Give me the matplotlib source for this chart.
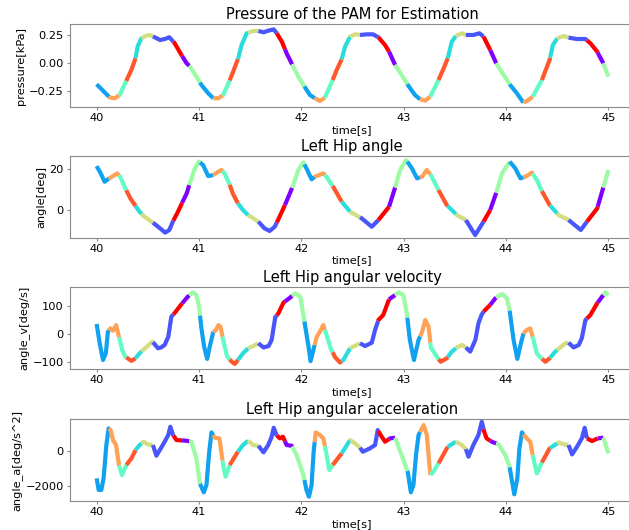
import numpy as np
import matplotlib
matplotlib.use("Agg")
import matplotlib.pyplot as plt

# ---------------- data ----------------
# gait phase boundaries (start time of each coloured segment) and class index
phase_start = [40.0, 40.12, 40.22, 40.29, 40.38, 40.44, 40.55, 40.75, 40.835, 40.905,
               41.01, 41.14, 41.23, 41.30, 41.38, 41.48, 41.58, 41.76, 41.84, 41.91,
               42.03, 42.13, 42.23, 42.306, 42.394, 42.475, 42.573, 42.75, 42.857, 42.916,
               43.035, 43.16, 43.26, 43.34, 43.43, 43.51, 43.607, 43.78, 43.845, 43.904,
               44.035, 44.17, 44.26, 44.35, 44.43, 44.50, 44.61, 44.79, 44.895, 44.95]
phase_end = 45.0
phase_class = [2, 7, 4, 8, 3, 6, 1, 9, 0, 5,
               2, 7, 4, 8, 3, 6, 1, 9, 0, 5,
               2, 7, 4, 8, 3, 6, 1, 9, 0, 5,
               2, 7, 4, 8, 3, 6, 1, 9, 0, 5,
               2, 7, 4, 8, 3, 6, 1, 9, 0, 5]

# pressure [kPa]
t_pressure = [40.0, 40.062, 40.127, 40.176, 40.225, 40.29, 40.34, 40.38, 40.40, 40.437,
              40.486, 40.52, 40.584, 40.62, 40.67, 40.71, 40.76, 40.83, 40.877, 40.91,
              40.975, 41.024, 41.09, 41.14, 41.19, 41.236, 41.295, 41.334, 41.383, 41.416,
              41.465, 41.53, 41.58, 41.63, 41.68, 41.73, 41.76, 41.81, 41.856, 41.905,
              41.97, 42.035, 42.084, 42.133, 42.18, 42.23, 42.306, 42.345, 42.394, 42.427,
              42.476, 42.525, 42.573, 42.64, 42.70, 42.753, 42.818, 42.857, 42.916, 42.98,
              43.04, 43.11, 43.16, 43.21, 43.26, 43.34, 43.39, 43.43, 43.47, 43.51,
              43.568, 43.607, 43.68, 43.74, 43.78, 43.845, 43.904, 43.976, 44.04, 44.105,
              44.17, 44.22, 44.26, 44.35, 44.425, 44.457, 44.5, 44.563, 44.61, 44.693,
              44.775, 44.824, 44.89, 44.95, 45.0]
pressure = [-0.19, -0.247, -0.307, -0.315, -0.286, -0.16, -0.06, 0.042, 0.146, 0.22,
            0.245, 0.25, 0.222, 0.205, 0.215, 0.23, 0.18, 0.07, 0.0, -0.03,
            -0.122, -0.196, -0.27, -0.315, -0.315, -0.286, -0.167, -0.077, 0.042, 0.16,
            0.265, 0.286, 0.286, 0.274, 0.289, 0.30, 0.265, 0.19, 0.086, -0.003,
            -0.122, -0.217, -0.286, -0.315, -0.339, -0.31, -0.152, -0.063, 0.033, 0.146,
            0.235, 0.256, 0.25, 0.256, 0.256, 0.229, 0.16, 0.101, -0.018, -0.107,
            -0.196, -0.286, -0.324, -0.336, -0.30, -0.152, -0.048, 0.042, 0.19, 0.241,
            0.265, 0.25, 0.25, 0.265, 0.235, 0.116, -0.003, -0.107, -0.196, -0.27,
            -0.354, -0.33, -0.30, -0.152, 0.027, 0.16, 0.22, 0.241, 0.226, 0.214,
            0.214, 0.176, 0.101, -0.003, -0.122]

# left hip angle [deg]
t_angle = [40.0, 40.04, 40.078, 40.11, 40.16, 40.2, 40.23, 40.28, 40.33, 40.38,
           40.42, 40.46, 40.55, 40.62, 40.67, 40.71, 40.745, 40.795, 40.83, 40.88,
           40.91, 40.96, 41.0, 41.04, 41.09, 41.14, 41.19, 41.22, 41.25, 41.295,
           41.33, 41.38, 41.43, 41.48, 41.58, 41.64, 41.69, 41.74, 41.775, 41.84,
           41.915, 41.97, 42.02, 42.05, 42.10, 42.133, 42.215, 42.24, 42.31, 42.394,
           42.476, 42.59, 42.688, 42.753, 42.857, 42.916, 42.965, 43.024, 43.08, 43.13,
           43.18, 43.226, 43.265, 43.34, 43.42, 43.52, 43.607, 43.698, 43.78, 43.845,
           43.904, 43.96, 44.035, 44.09, 44.14, 44.19, 44.253, 44.30, 44.345, 44.425,
           44.515, 44.61, 44.73, 44.79, 44.89, 44.95, 45.0]
angle = [21.6, 18.0, 13.9, 15.1, 16.7, 18.0, 16.4, 10.7, 5.7, 2.0,
         -0.8, -3.0, -6.2, -9.0, -11.1, -9.8, -5.7, -0.8, 3.0, 8.2,
         13.1, 20.5, 23.8, 22.1, 16.7, 17.2, 18.9, 19.7, 18.0, 13.1,
         8.2, 3.3, 0.0, -2.5, -5.7, -9.0, -10.3, -8.2, -4.6, 2.5,
         11.5, 19.7, 23.4, 20.5, 15.1, 16.4, 18.0, 16.7, 11.5, 4.1,
         -0.8, -4.1, -8.2, -4.9, 1.6, 11.1, 19.7, 24.6, 20.5, 15.6,
         16.4, 19.7, 17.2, 9.8, 2.5, -2.5, -4.9, -12.3, -5.7, 0.0,
         8.5, 18.0, 23.8, 20.5, 15.6, 16.4, 18.4, 14.8, 9.8, 2.5,
         -2.5, -4.9, -9.8, -5.7, 0.8, 11.1, 19.7]

# left hip angular velocity [deg/s]
t_velocity = [40.0, 40.03, 40.062, 40.09, 40.11, 40.134, 40.16, 40.19, 40.22, 40.25,
              40.28, 40.34, 40.38, 40.42, 40.46, 40.50, 40.545, 40.60, 40.63, 40.665,
              40.70, 40.73, 40.76, 40.83, 40.89, 40.94, 40.975, 41.0, 41.024, 41.05,
              41.08, 41.105, 41.14, 41.165, 41.19, 41.21, 41.236, 41.275, 41.32, 41.35,
              41.38, 41.43, 41.48, 41.53, 41.58, 41.63, 41.68, 41.71, 41.745, 41.776,
              41.825, 41.89, 41.94, 41.99, 42.025, 42.07, 42.09, 42.15, 42.18, 42.215,
              42.247, 42.286, 42.33, 42.378, 42.41, 42.476, 42.573, 42.622, 42.688, 42.72,
              42.753, 42.80, 42.857, 42.916, 42.95, 42.997, 43.03, 43.06, 43.10, 43.145,
              43.18, 43.21, 43.243, 43.265, 43.34, 43.362, 43.42, 43.47, 43.52, 43.568,
              43.607, 43.65, 43.70, 43.73, 43.76, 43.78, 43.845, 43.894, 43.936, 43.968,
              44.008, 44.034, 44.073, 44.11, 44.145, 44.17, 44.2, 44.236, 44.26, 44.30,
              44.345, 44.384, 44.425, 44.48, 44.53, 44.58, 44.61, 44.66, 44.71, 44.74,
              44.775, 44.824, 44.89, 44.95, 44.97, 45.0]
velocity = [35.7, -33, -93, -69, 8, 20, 12, 32, -12, -57,
            -81, -96, -87, -69, -55, -43, -27, -51, -48, -39,
            -10, 62, 74, 107, 133, 149, 139, 98, 20, -45,
            -89, -45, 8, 14, 32, 26, -21, -81, -99, -107,
            -93, -69, -51, -43, -33, -48, -43, -21, 60, 74,
            112, 130, 145, 133, 56, -45, -97, -10, 8, 32,
            -4, -51, -83, -102, -93, -51, -33, -43, -31, 14,
            50, 68, 124, 139, 149, 139, 74, -21, -93, -21,
            8, 50, 26, -48, -90, -99, -87, -63, -48, -39,
            -48, -63, -21, 38, 68, 80, 104, 127, 139, 142,
            127, 86, -21, -89, -33, 2, 14, 20, -10, -69,
            -87, -99, -87, -63, -48, -33, -31, -48, -39, -15,
            50, 68, 110, 139, 149, 139]

# left hip angular acceleration [deg/s^2]
t_accel = [40.0, 40.02, 40.046, 40.068, 40.095, 40.117, 40.137, 40.16, 40.19, 40.218,
           40.248, 40.29, 40.34, 40.38, 40.42, 40.46, 40.50, 40.55, 40.584, 40.65,
           40.70, 40.72, 40.747, 40.78, 40.877, 40.926, 40.975, 41.008, 41.047, 41.073,
           41.1, 41.122, 41.155, 41.20, 41.236, 41.26, 41.30, 41.38, 41.43, 41.48,
           41.53, 41.58, 41.63, 41.676, 41.71, 41.73, 41.757, 41.79, 41.82, 41.856,
           41.905, 41.954, 42.02, 42.05, 42.074, 42.10, 42.12, 42.14, 42.182, 42.215,
           42.247, 42.273, 42.306, 42.394, 42.476, 42.525, 42.573, 42.6, 42.67, 42.72,
           42.746, 42.785, 42.818, 42.867, 42.916, 42.93, 42.98, 43.04, 43.07, 43.095,
           43.12, 43.145, 43.195, 43.226, 43.243, 43.26, 43.29, 43.34, 43.43, 43.51,
           43.568, 43.607, 43.633, 43.68, 43.73, 43.763, 43.786, 43.81, 43.86, 43.927,
           43.992, 44.034, 44.08, 44.11, 44.13, 44.155, 44.187, 44.236, 44.26, 44.30,
           44.345, 44.425, 44.515, 44.563, 44.61, 44.645, 44.693, 44.74, 44.768, 44.79,
           44.84, 44.895, 44.95, 45.0]
accel = [-1566, -2226, -2226, -1566, 321, 1264, 1170, 604, 321, -811,
         -1378, -811, -434, 38, 321, 510, 359, 321, -283, 359,
         887, 1359, 887, 604, 566, 510, -434, -1849, -2359, -1944,
         -57, 1038, 736, 698, -811, -1472, -811, -57, 321, 566,
         321, 283, -94, 321, 793, 1302, 887, 698, 793, 321,
         283, -245, -1378, -2226, -2604, -1944, -57, 1038, 887, 698,
         -245, -1094, -811, -151, 604, 415, 170, -57, 132, 321,
         1170, 793, 510, 698, 736, 510, -245, -1227, -2359, -1944,
         -245, 887, 1453, 887, -245, -1378, -1189, -717, 226, 510,
         321, 94, -340, 321, 887, 1642, 1076, 698, 510, 359,
         -245, -906, -2472, -1566, 132, 1038, 793, 510, -245, -1283,
         -717, 132, 472, 359, 321, -208, 226, 698, 1302, 698,
         547, 698, 736, -151]

titles = ["Pressure of the PAM for Estimation", "Left Hip angle",
          "Left Hip angular velocity", "Left Hip angular acceleration"]
ylabels = ["pressure[kPa]", "angle[deg]", "angle_v[deg/s]", "angle_a[deg/s^2]"]
xlabel = "time[s]"
xticks = [40, 41, 42, 43, 44, 45]
yticks = [[-0.25, 0.0, 0.25], [0, 20], [-100, 0, 100], [-2000, 0]]
ylims = [(-0.393, 0.348), (-13.6, 26.7), (-125, 167), (-2850, 1796)]

# ---------------- plotting ----------------
fig = plt.figure(figsize=(6.29, 5.30), dpi=100)
cmap = plt.cm.rainbow
n_cls = 10

# axes rectangles in figure fraction (left, bottom, width, height)
rects = [(0.1113, 0.7981, 0.8967, 0.1566),
         (0.1113, 0.5515, 0.8967, 0.1547),
         (0.1113, 0.3038, 0.8967, 0.1542),
         (0.1113, 0.0547, 0.8967, 0.1547)]

series = [(t_pressure, pressure), (t_angle, angle), (t_velocity, velocity), (t_accel, accel)]
bounds = list(phase_start) + [phase_end]

for i, (rect, (tt, vv)) in enumerate(zip(rects, series)):
    ax = fig.add_axes(rect)
    t = np.asarray(tt, float)
    v = np.asarray(vv, float)
    for j, k in enumerate(phase_class):
        a, b = bounds[j], bounds[j + 1]
        m = (t > a) & (t < b)
        ts = np.concatenate([[a], t[m], [b]])
        vs = np.concatenate([[np.interp(a, t, v)], v[m], [np.interp(b, t, v)]])
        ax.plot(ts, vs, color=cmap(k / (n_cls - 1)), lw=3.0,
                solid_capstyle="butt", solid_joinstyle="round")
    ax.set_xlim(39.74, 45.25)
    ax.set_ylim(*ylims[i])
    ax.set_xticks(xticks)
    ax.set_yticks(yticks[i])
    if i == 0:
        ax.set_yticklabels(["\u22120.25", "0.00", "0.25"])
    ax.set_title(titles[i], fontsize=10.5, pad=3.5)
    ax.set_ylabel(ylabels[i], fontsize=8.2, labelpad=2)
    ax.set_xlabel(xlabel, fontsize=8.2, labelpad=1)
    for s in ax.spines.values():
        s.set_color("#8a8a8a")
        s.set_linewidth(0.8)
    ax.tick_params(labelsize=8.2, length=2.5, width=0.8, color="#8a8a8a", pad=2)

fig.savefig("out.png", dpi=100)
